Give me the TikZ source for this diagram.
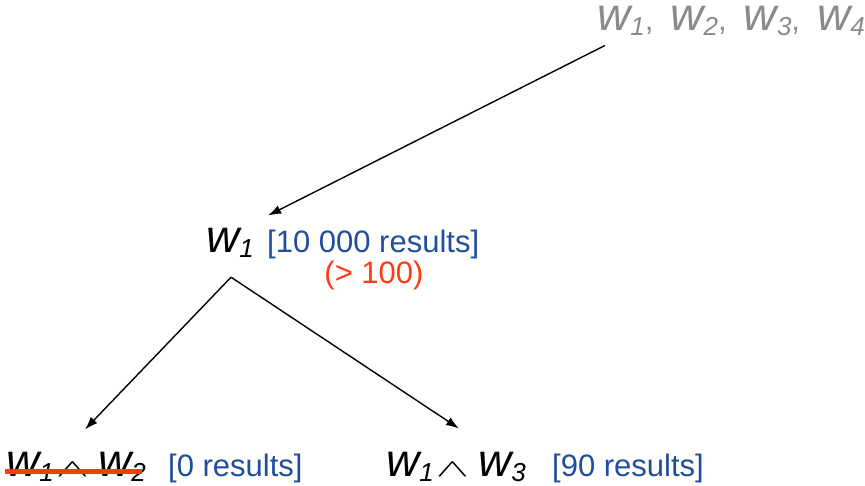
\documentclass[tikz,border=0pt]{standalone}
\usepackage{fontspec}
\setmainfont{Liberation Sans}
\usepackage{tikz}
\usetikzlibrary{arrows.meta,positioning}
\definecolor{QueryGray}{HTML}{8A8A8A}
\definecolor{CountBlue}{HTML}{1F4E9C}
\definecolor{LimitRed}{HTML}{FF3B14}
\tikzset{
  query/.style={inner sep=0pt, anchor=base west, font=\fontsize{31}{36}\selectfont},
  count/.style={query, text=CountBlue},
  limit/.style={query, anchor=base, text=LimitRed},
  wire/.style={-{Latex[length=13pt, width=9pt]}, line width=1.4pt},
  strike/.style={draw=LimitRed, line width=5pt}
}
\newcommand{\kw}[1]{{\fontsize{46}{50}\selectfont\itshape w\raisebox{-5pt}{\fontsize{26}{30}\selectfont #1}}}
\newcommand{\andsym}{\hspace{2pt}\scalebox{2.0}[1.0]{$\wedge$}\hspace{9pt}}
\newcommand{\kwsep}{,\hspace{17pt}}

\begin{document}
\begin{tikzpicture}[x=1pt, y=-1pt]
  \useasboundingbox (0,0) rectangle (865,486);
  \node[query, text=QueryGray] (all) at (597,31) {\kw{1}\kwsep\kw{2}\kwsep\kw{3}\kwsep\kw{4}};
  \node[query] (wone) at (206,253) {\kw{1}};
  \node[count] (wonecount) at (267,253) {[10 000 results]};
  \node[limit] (wonelimit) at (374,284) {(> 100)};
  \node[query] (wtwo) at (6,476) {\kw{1}\andsym\kw{2}};
  \node[count] (wtwocount) at (168,476) {[0 results]};
  \node[query] (wthree) at (386,476) {\kw{1}\andsym\kw{3}};
  \node[count] (wthreecount) at (552,476) {[90 results]};
  \draw[strike] ([xshift=-1pt, yshift=4.5pt]wtwo.base west) -- ([xshift=-4pt, yshift=4.5pt]wtwo.base east);
  \draw[wire] ([xshift=8pt, yshift=-9pt]all.south west) -- ([xshift=14pt, yshift=13pt]wone.north east);
  \draw[wire] ([xshift=1pt, yshift=-19pt]wone.south) -- ([xshift=9pt, yshift=22pt]wtwo.north);
  \draw[wire] ([xshift=1pt, yshift=-19pt]wone.south) -- ([xshift=3pt, yshift=23pt]wthree.north);
\end{tikzpicture}
\end{document}
